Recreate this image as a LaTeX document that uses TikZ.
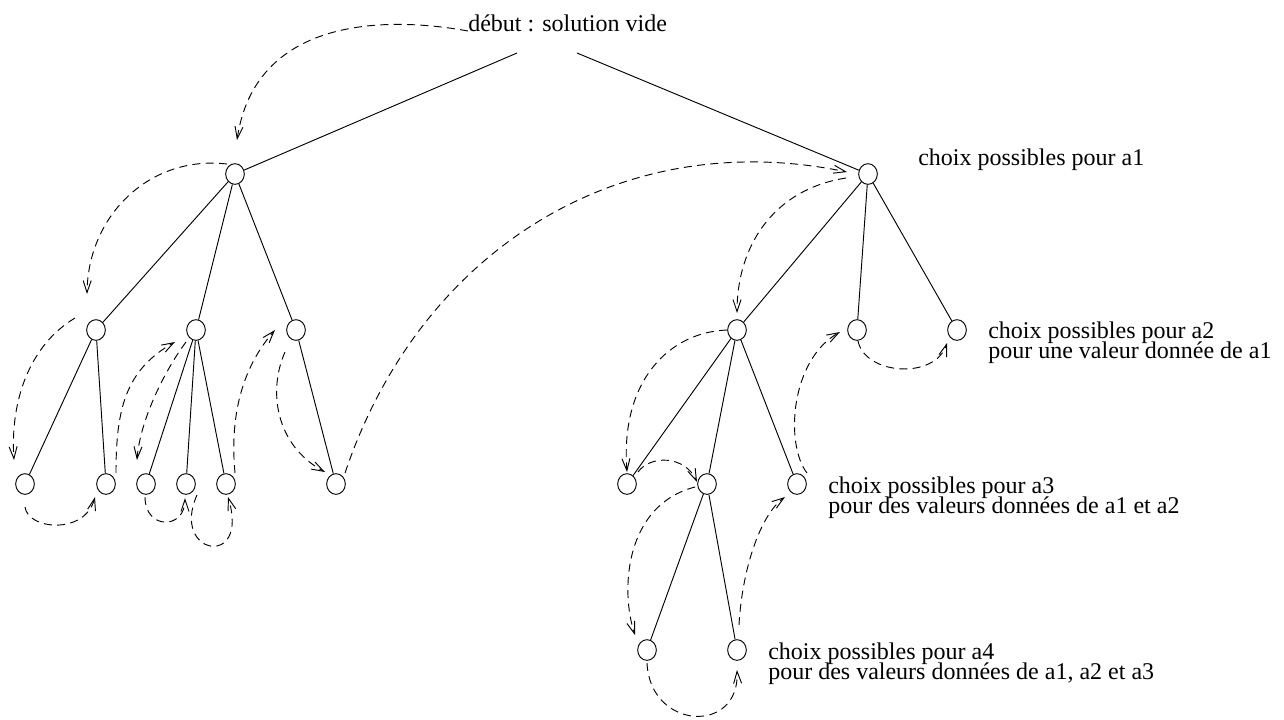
\documentclass[tikz,border=0pt]{standalone}
\usepackage{fontspec}
\setmainfont{Liberation Serif}
\usetikzlibrary{arrows.meta, shapes.geometric}
\newcommand{\textefig}{\fontsize{18}{15}\selectfont\lineskiplimit=-100pt\relax}

\begin{document}
\begin{tikzpicture}[x=0.75pt, y=0.75pt, every node/.style={font=\textefig}]
    \tikzstyle{noeud} = [ellipse, draw, line width=0.7pt, minimum width=14pt, minimum height=15.5pt, inner sep=0pt]
    \tikzstyle{legende} = [anchor=base west, align=left, inner sep=0pt]
    \tikzstyle{arete} = [line width=0.7pt]
    \tikzstyle{retour} = [line width=0.7pt, dash pattern=on 6pt off 4pt, -{Straight Barb[length=9pt, width=6pt]}]

    \useasboundingbox (0,0) rectangle (1284,-719);

    % racine et textes (base = derniere ligne)
    \node[legende] (root) at (468,-31) {début : solution vide};
    \coordinate (rootl) at (517,-53);
    \coordinate (rootr) at (577,-53);
    \node[legende] (t1) at (918,-165) {choix possibles pour a1};
    \node[legende] (t2) at (988,-358) {choix possibles pour a2\\pour une valeur donnée de a1};
    \node[legende] (t3) at (828,-513) {choix possibles pour a3\\pour des valeurs données de a1 et a2};
    \node[legende] (t4) at (768,-679) {choix possibles pour a4\\pour des valeurs données de a1, a2 et a3};

    % arbre
    \node[noeud] (a) at (235,-174) {};
    \node[noeud] (b) at (868,-174) {};
    \node[noeud] (a1) at (96,-330) {};
    \node[noeud] (a2) at (196,-330) {};
    \node[noeud] (a3) at (296,-330) {};
    \node[noeud] (b1) at (737,-330) {};
    \node[noeud] (b2) at (857,-330) {};
    \node[noeud] (b3) at (957,-330) {};
    \node[noeud] (a11) at (25,-484) {};
    \node[noeud] (a12) at (106,-484) {};
    \node[noeud] (a21) at (146,-484) {};
    \node[noeud] (a22) at (186,-484) {};
    \node[noeud] (a23) at (226,-484) {};
    \node[noeud] (a31) at (336,-484) {};
    \node[noeud] (b11) at (627,-484) {};
    \node[noeud] (b12) at (707,-484) {};
    \node[noeud] (b13) at (797,-484) {};
    \node[noeud] (b121) at (647,-650) {};
    \node[noeud] (b122) at (737,-650) {};

    \draw[arete] (rootl) -- (a);
    \draw[arete] (rootr) -- (b);
    \draw[arete] (a) -- (a1);
    \draw[arete] (a) -- (a2);
    \draw[arete] (a) -- (a3);
    \draw[arete] (a1) -- (a11);
    \draw[arete] (a1) -- (a12);
    \draw[arete] (a2) -- (a21);
    \draw[arete] (a2) -- (a22);
    \draw[arete] (a2) -- (a23);
    \draw[arete] (a3) -- (a31);
    \draw[arete] (b) -- (b1);
    \draw[arete] (b) -- (b2);
    \draw[arete] (b) -- (b3);
    \draw[arete] (b1) -- (b11);
    \draw[arete] (b1) -- (b12);
    \draw[arete] (b1) -- (b13);
    \draw[arete] (b12) -- (b121);
    \draw[arete] (b12) -- (b122);

    % parcours en profondeur
    \draw[retour] (root.base west) .. controls (380,-15) and (255,-20) .. ([shift={(2,34)}]a.center);
    \draw[retour] ([shift={(-8,10)}]a.center) .. controls (150,-155) and (88,-215) .. ([shift={(-9,36)}]a1.center);
    \draw[retour] ([shift={(-21,12)}]a1.center) .. controls (30,-345) and (10,-400) .. ([shift={(-11,24)}]a11.center);
    \draw[retour] ([shift={(0,-23)}]a11.center) .. controls (28,-530) and (85,-535) .. ([shift={(-11,-13)}]a12.center);
    \draw[retour] ([shift={(10,11)}]a12.center) .. controls (116,-410) and (125,-370) .. ([shift={(-21,-12)}]a2.center);
    \draw[retour] ([shift={(-10,-12)}]a2.center) .. controls (165,-370) and (140,-420) .. ([shift={(-9,24)}]a21.center);
    \draw[retour] ([shift={(-1,-13)}]a21.center) .. controls (145,-530) and (185,-530) .. ([shift={(-1,-14)}]a22.center);
    \draw[retour] ([shift={(11,-11)}]a22.center) .. controls (170,-555) and (250,-570) .. ([shift={(2,-13)}]a23.center);
    \draw[retour] ([shift={(9,11)}]a23.center) .. controls (230,-420) and (240,-370) .. ([shift={(-21,0)}]a3.center);
    \draw[retour] ([shift={(-11,-22)}]a3.center) .. controls (268,-390) and (275,-445) .. ([shift={(-11,12)}]a31.center);
    \draw[retour] ([shift={(9,11)}]a31.center) .. controls (420,-250) and (620,-125) .. ([shift={(-21,2)}]b.center);
    \draw[retour] ([shift={(-22,-4)}]b.center) .. controls (770,-190) and (737,-250) .. ([shift={(0,17)}]b1.center);
    \draw[retour] ([shift={(-10,0)}]b1.center) .. controls (670,-332) and (620,-380) .. ([shift={(0,12)}]b11.center);
    \draw[retour] ([shift={(11,12)}]b11.center) .. controls (650,-455) and (685,-455) .. ([shift={(-10,2)}]b12.center);
    \draw[retour] ([shift={(-12,-3)}]b12.center) .. controls (625,-505) and (620,-590) .. ([shift={(-12,15)}]b121.center);
    \draw[retour] ([shift={(0,-13)}]b121.center) .. controls (650,-730) and (740,-735) .. ([shift={(0,-20)}]b122.center);
    \draw[retour] ([shift={(2,25)}]b122.center) .. controls (742,-570) and (760,-515) .. ([shift={(-12,-13)}]b13.center);
    \draw[retour] ([shift={(10,11)}]b13.center) .. controls (785,-445) and (790,-360) .. ([shift={(-17,-2)}]b2.center);
    \draw[retour] ([shift={(1,-11)}]b2.center) .. controls (865,-375) and (935,-380) .. ([shift={(-10,-13)}]b3.center);
\end{tikzpicture}
\end{document}
